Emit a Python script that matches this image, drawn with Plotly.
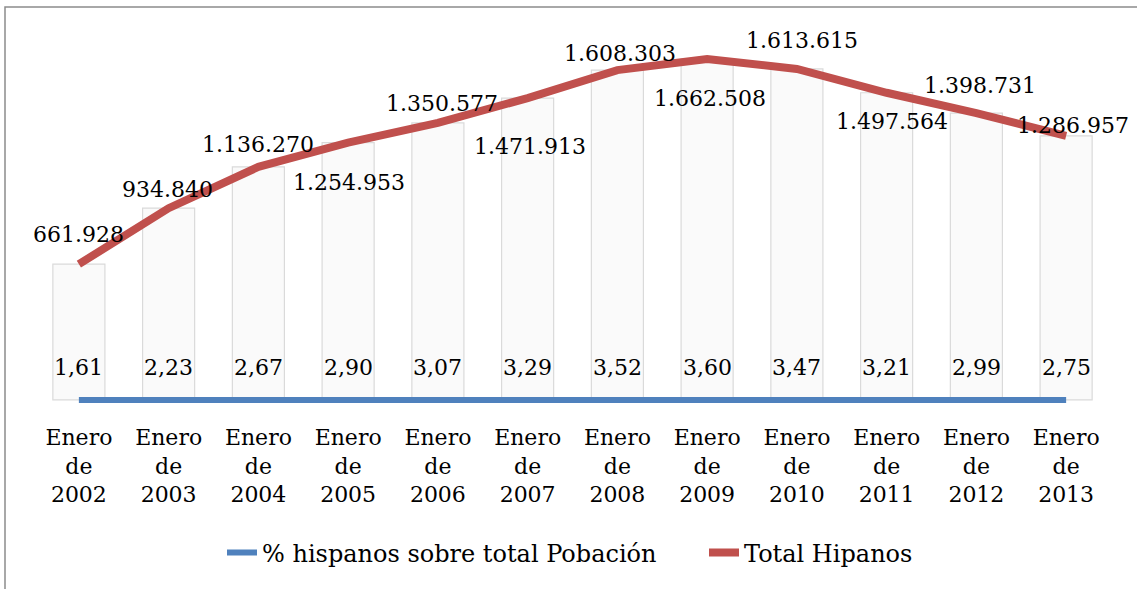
import plotly.graph_objects as go

categories = ["Enero<br>de<br>2002", "Enero<br>de<br>2003", "Enero<br>de<br>2004", "Enero<br>de<br>2005",
              "Enero<br>de<br>2006", "Enero<br>de<br>2007", "Enero<br>de<br>2008", "Enero<br>de<br>2009",
              "Enero<br>de<br>2010", "Enero<br>de<br>2011", "Enero<br>de<br>2012", "Enero<br>de<br>2013"]
total_hispanos = [661928, 934840, 1136270, 1254953, 1350577, 1471913,
                  1608303, 1662508, 1613615, 1497564, 1398731, 1286957]
pct_hispanos = [1.61, 2.23, 2.67, 2.90, 3.07, 3.29, 3.52, 3.60, 3.47, 3.21, 2.99, 2.75]
total_labels = ["661.928", "934.840", "1.136.270", "1.254.953", "1.350.577", "1.471.913",
                "1.608.303", "1.662.508", "1.613.615", "1.497.564", "1.398.731", "1.286.957"]
pct_labels = ["1,61", "2,23", "2,67", "2,90", "3,07", "3,29", "3,52", "3,60", "3,47", "3,21", "2,99", "2,75"]

# label offsets (style)
total_yshift = [30, 19, 22, -40, 19, -48, 17, -40, 28, -29, 28, 10]
total_xshift = [0, -1, 0, 1, 4, 2, 3, 3, 5, 5, 4, 7]

W, H = 1137, 589
ML, MR, MT, MB = 34, 26, 41, 186
FONT = "DejaVu Serif"
RED = "#C0504D"
BLUE = "#4F81BD"

fig = go.Figure()
fig.add_trace(go.Bar(x=categories, y=total_hispanos, width=0.58,
                     marker=dict(color="#fafafa", line=dict(color="#dadada", width=1.2)),
                     showlegend=False, hoverinfo="skip"))
fig.add_trace(go.Scatter(x=categories, y=pct_hispanos, mode="lines",
                         name="% hispanos sobre total Pobación",
                         line=dict(color=BLUE, width=6)))
fig.add_trace(go.Scatter(x=categories, y=total_hispanos, mode="lines",
                         name="Total Hipanos",
                         line=dict(color=RED, width=8)))

annotations = []
for c, v, t, ys, xs in zip(categories, total_hispanos, total_labels, total_yshift, total_xshift):
    annotations.append(dict(x=c, y=v, text=t, showarrow=False, yshift=ys, xshift=xs,
                            font=dict(family=FONT, size=22, color="#000")))
for c, v, t in zip(categories, pct_hispanos, pct_labels):
    annotations.append(dict(x=c, y=v, text=t, showarrow=False, yshift=32,
                            font=dict(family=FONT, size=22, color="#000")))

pw = W - ML - MR
ph = H - MT - MB
def px_x(p):
    return (p - ML) / pw
def px_y(p):
    return (H - MB - p) / ph

fig.add_shape(type="rect", xref="paper", yref="paper",
              x0=px_x(5), x1=px_x(W + 20), y0=px_y(H + 20), y1=px_y(7),
              line=dict(color="#8c8c8c", width=1.5), fillcolor="rgba(0,0,0,0)", layer="below")

fig.update_layout(
    width=W, height=H,
    margin=dict(l=ML, r=MR, t=MT, b=MB, autoexpand=False),
    paper_bgcolor="white", plot_bgcolor="white",
    font=dict(family=FONT, size=22, color="#000"),
    annotations=annotations,
    legend=dict(orientation="h", x=px_x(222), xanchor="left", y=px_y(553), yanchor="middle",
                font=dict(family=FONT, size=24), entrywidth=437, entrywidthmode="pixels",
                tracegroupgap=0, bgcolor="rgba(0,0,0,0)"),
    xaxis=dict(showgrid=False, zeroline=False, showline=False, ticks="",
               tickfont=dict(family=FONT, size=22), range=[-0.5, 11.5], ticklabelstandoff=19),
    yaxis=dict(visible=False, range=[-15000, 1.75e6]),
)

fig.write_html("out.html", config={"displayModeBar": False},
               post_script="document.body.style.margin='0';")
